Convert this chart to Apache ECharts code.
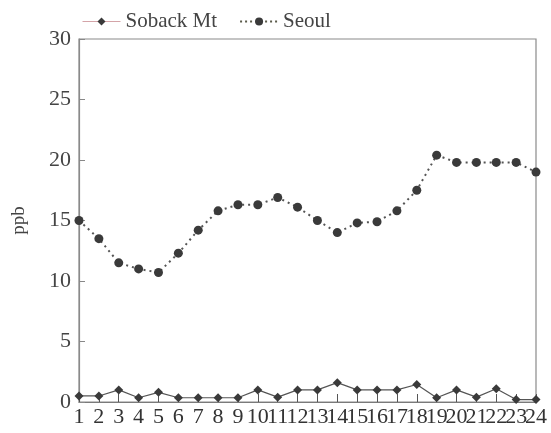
<!DOCTYPE html>
<html>
<head>
<meta charset="utf-8">
<script src="https://cdn.jsdelivr.net/npm/echarts@6/dist/echarts.min.js"></script>
<style>
  html, body { margin: 0; padding: 0; background: #fff; }
  #chart { width: 551px; height: 433px; }
</style>
</head>
<body>
<div id="chart"></div>
<script>
// Hourly concentrations (ppb) at two sites
const hours = ['1','2','3','4','5','6','7','8','9','10','11','12','13','14','15','16','17','18','19','20','21','22','23','24'];
const sobackMt = [0.5, 0.5, 1.0, 0.35, 0.8, 0.35, 0.35, 0.35, 0.35, 1.0, 0.4, 1.0, 1.0, 1.6, 1.0, 1.0, 1.0, 1.45, 0.35, 1.0, 0.4, 1.1, 0.2, 0.2];
const seoul = [15.0, 13.5, 11.5, 11.0, 10.7, 12.3, 14.2, 15.8, 16.3, 16.3, 16.9, 16.1, 15.0, 14.0, 14.8, 14.9, 15.8, 17.5, 20.4, 19.8, 19.8, 19.8, 19.8, 19.0];
const yTicks = { min: 0, max: 30, step: 5 };

const FONT = '"Liberation Serif", "DejaVu Serif", serif';
const INK = '#3a3a3a';

const chart = echarts.init(document.getElementById('chart'), null, { renderer: 'canvas' });
chart.setOption({
  animation: false,
  backgroundColor: '#fff',
  textStyle: { fontFamily: FONT },
  legend: {
    left: 77,
    top: 6,
    itemWidth: 38,
    itemHeight: 10,
    itemGap: 22,
    textStyle: { fontFamily: FONT, fontSize: 21, color: '#444' },
    data: [
      { name: 'Soback Mt', lineStyle: { color: '#d4a4a8', width: 1 } },
      { name: 'Seoul', lineStyle: { color: '#5a5a4a', width: 2, type: [2, 3] } }
    ]
  },
  grid: {
    left: 79, right: 15, top: 39, bottom: 31,
    show: true, borderColor: '#8a8a8a', borderWidth: 1.2, backgroundColor: 'transparent'
  },
  xAxis: {
    type: 'category',
    data: hours,
    boundaryGap: false,
    axisLine: { lineStyle: { color: '#7a7a7a', width: 1.2 } },
    axisTick: { inside: true, length: 8, lineStyle: { color: '#555' }, interval: 0 },
    axisLabel: { interval: 0, fontFamily: FONT, fontSize: 22, color: '#333', margin: 4 },
    splitLine: { show: false }
  },
  yAxis: {
    type: 'value',
    min: yTicks.min,
    max: yTicks.max,
    interval: yTicks.step,
    name: 'ppb',
    nameLocation: 'middle',
    nameRotate: 90,
    nameGap: 50,
    nameTextStyle: { fontFamily: FONT, fontSize: 19, color: '#444' },
    axisLine: { show: true, lineStyle: { color: '#8a8a8a', width: 1.2 } },
    axisTick: { show: true, inside: true, length: 6, lineStyle: { color: '#888' } },
    axisLabel: { fontFamily: FONT, fontSize: 22, color: '#444', margin: 8 },
    splitLine: { show: false }
  },
  series: [
    {
      name: 'Soback Mt',
      type: 'line',
      data: sobackMt,
      symbol: 'diamond',
      symbolSize: 9,
      itemStyle: { color: INK },
      lineStyle: { color: '#555', width: 1.2, type: 'solid' }
    },
    {
      name: 'Seoul',
      type: 'line',
      data: seoul,
      symbol: 'circle',
      symbolSize: 9,
      itemStyle: { color: INK },
      lineStyle: { color: '#555', width: 2, type: [2, 4] }
    }
  ]
});
</script>
</body>
</html>
